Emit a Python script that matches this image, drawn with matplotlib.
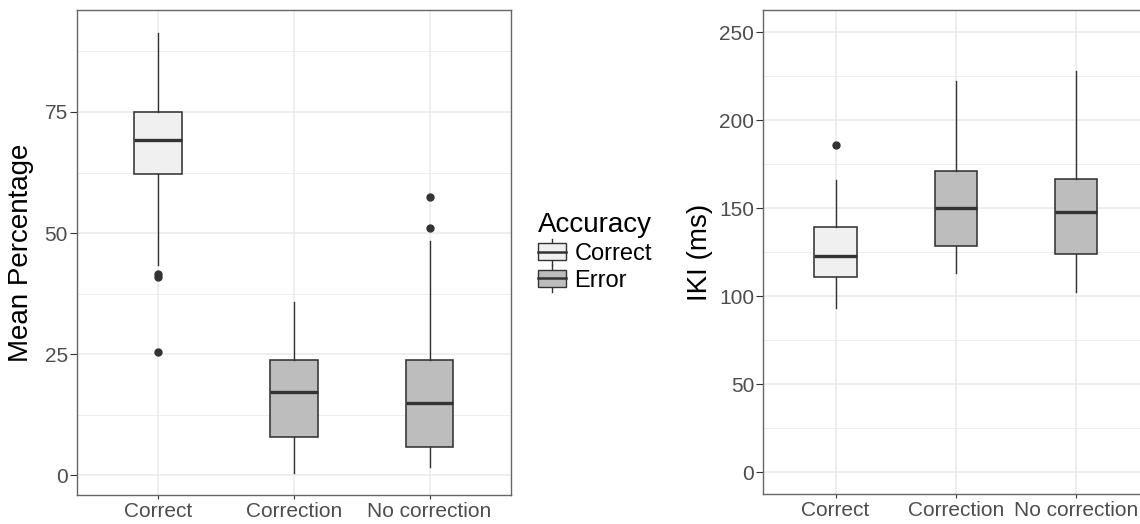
import numpy as np
import matplotlib.pyplot as plt
from matplotlib.legend_handler import HandlerBase
from matplotlib.patches import Rectangle, Patch
from matplotlib.lines import Line2D

plt.rcParams['font.family'] = ['Liberation Sans', 'DejaVu Sans']

# data
kategori = ['Correct', 'Correction', 'No correction']
akurasi = ['Correct', 'Error', 'Error']
warna_isi = {'Correct': '#f0f0f0', 'Error': '#bdbdbd'}

# panel kiri: mean percentage
pct_whislo = [43.4, 0.5, 1.7]
pct_q1 = [62.1, 7.9, 5.9]
pct_med = [69.3, 17.3, 15.0]
pct_q3 = [74.9, 23.8, 23.8]
pct_whishi = [91.4, 35.7, 48.3]
pct_fliers = [[41.6, 40.9, 25.5], [], [57.4, 51.1]]

# panel kanan: IKI (ms)
iki_whislo = [93.3, 113.2, 102.4]
iki_q1 = [110.7, 128.7, 123.8]
iki_med = [122.6, 150.3, 148.0]
iki_q3 = [139.3, 171.3, 166.4]
iki_whishi = [166.2, 222.0, 227.7]
iki_fliers = [[186.1], [], []]

garis = '#333333'


def buat_stats(lo, q1, med, q3, hi, fl):
    return [dict(whislo=lo[i], q1=q1[i], med=med[i], q3=q3[i], whishi=hi[i],
                 fliers=np.array(fl[i]), label=kategori[i]) for i in range(len(kategori))]


def gambar_panel(ax, stats, ylim, mayor, minor, judul_y, label_x):
    bp = ax.bxp(stats, positions=[1, 2, 3], widths=0.35, patch_artist=True, showcaps=False,
                boxprops=dict(edgecolor=garis, linewidth=1.15),
                whiskerprops=dict(color=garis, linewidth=1.0),
                medianprops=dict(color=garis, linewidth=2.4, solid_capstyle='butt'),
                flierprops=dict(marker='o', markerfacecolor=garis, markeredgecolor=garis,
                                markersize=5))
    for kotak, a in zip(bp['boxes'], akurasi):
        kotak.set_facecolor(warna_isi[a])
    ax.set_xlim(0.4, 3.6)
    ax.set_ylim(*ylim)
    ax.set_yticks(mayor)
    ax.set_yticks(minor, minor=True)
    ax.set_xticks([1, 2, 3])
    ax.set_xticklabels(kategori)
    ax.set_axisbelow(True)
    ax.grid(True, which='major', color='#ebebeb', linewidth=1.1)
    ax.grid(True, which='minor', axis='y', color='#ebebeb', linewidth=0.6)
    ax.tick_params(axis='y', which='minor', length=0)
    ax.tick_params(axis='y', which='major', length=5, color=garis, labelsize=15,
                   labelcolor='#4d4d4d', pad=1.5)
    ax.tick_params(axis='x', length=3, color=garis, labelsize=15, labelcolor='#4d4d4d', pad=2)
    for s in ax.spines.values():
        s.set_color('#666666')
        s.set_linewidth(1.0)
    ax.set_ylabel(judul_y, fontsize=20, color='black')
    ax.yaxis.set_label_coords(label_x, 0.5)


class KotakHandler(HandlerBase):
    def create_artists(self, legend, orig, xdescent, ydescent, width, height, fontsize, trans):
        x0, y0 = -xdescent, -ydescent
        xm = x0 + width / 2
        kumis = Line2D([xm, xm], [y0 - 0.3 * height, y0 + 1.3 * height], color=garis, lw=1.0)
        kotak = Rectangle((x0, y0), width, height,
                          facecolor=orig.get_facecolor(), edgecolor=garis, lw=1.0)
        median = Line2D([x0, x0 + width], [y0 + height / 2] * 2, color=garis, lw=1.8)
        for a in (kumis, kotak, median):
            a.set_transform(trans)
        return [kumis, kotak, median]


fig = plt.figure(figsize=(11.4, 5.24), dpi=100)
ax1 = fig.add_axes([76.7 / 1140, 29 / 524, 434.3 / 1140, 485 / 524])
ax2 = fig.add_axes([763.3 / 1140, 29.7 / 524, 385.2 / 1140, 484.3 / 524])

gambar_panel(ax1, buat_stats(pct_whislo, pct_q1, pct_med, pct_q3, pct_whishi, pct_fliers),
             (-4.05, 96.05), [0, 25, 50, 75], [12.5, 37.5, 62.5, 87.5], 'Mean Percentage', -0.098)
gambar_panel(ax2, buat_stats(iki_whislo, iki_q1, iki_med, iki_q3, iki_whishi, iki_fliers),
             (-12.5, 262.5), [0, 50, 100, 150, 200, 250], [25, 75, 125, 175, 225], 'IKI (ms)', -0.131)

handles = [Patch(facecolor=warna_isi[k], edgecolor=garis) for k in ['Correct', 'Error']]
leg = fig.legend(handles, ['Correct', 'Error'], title='Accuracy', loc='center left',
                 bbox_to_anchor=(538 / 1140, 1 - 252 / 524), frameon=False,
                 fontsize=17, title_fontsize=20, handlelength=1.2, handleheight=0.7,
                 handletextpad=0.35, labelspacing=0.2, borderpad=0, borderaxespad=0,
                 alignment='left', handler_map={Patch: KotakHandler()})

fig.savefig('out.png', dpi=100)
